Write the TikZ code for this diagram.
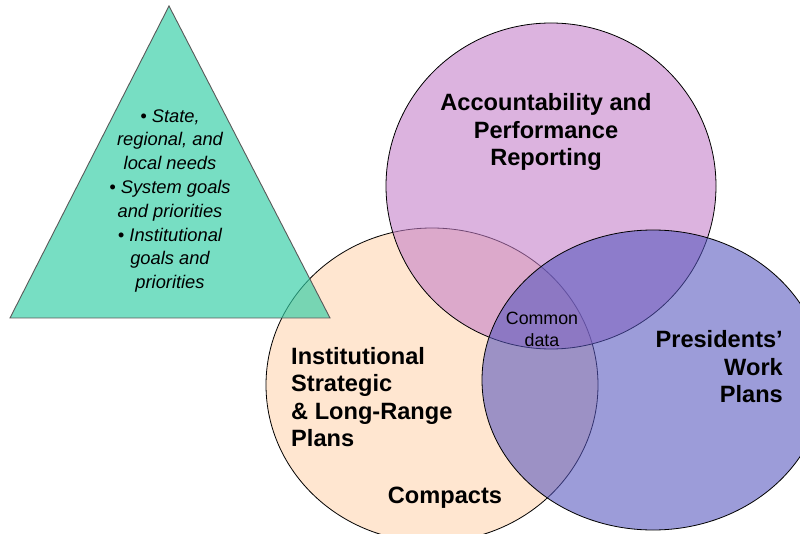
\documentclass[tikz,border=0pt]{standalone}
\usepackage{fontspec}
\setmainfont{Liberation Sans}
\usetikzlibrary{shapes.geometric}
\definecolor{tealc}{RGB}{50,205,165}
\definecolor{purpc}{RGB}{195,125,200}
\definecolor{orangec}{RGB}{255,212,175}
\definecolor{bluec}{RGB}{85,85,190}
\tikzset{
  shapeline/.style={draw=black, line width=0.8pt, fill opacity=0.58},
  boldlbl/.style={font=\fontsize{23.6}{27.5}\selectfont\bfseries, inner sep=0pt},
  triLbl/.style={font=\fontsize{18.3}{23.8}\selectfont\itshape, align=center, inner sep=0pt},
  smallLbl/.style={font=\fontsize{17.8}{22}\selectfont, align=center, inner sep=0pt}
}
\begin{document}
\begin{tikzpicture}[x=1pt,y=-1pt]
\useasboundingbox (0,0) rectangle (800,534);
\clip (0,0) rectangle (800,534);
\fill[white] (0,0) rectangle (800,534);
% orange
\draw[shapeline, fill=orangec] (432,385) ellipse [x radius=166, y radius=157];
% triangle
\draw[draw=black!65, line width=0.9pt, fill=tealc, fill opacity=0.66] (169,6) -- (330,318) -- (10,318) -- cycle;
% purple
\draw[shapeline, fill=purpc] (551,186) ellipse [x radius=165, y radius=163];
% blue
\draw[shapeline, fill=bluec] (653,380) ellipse [x radius=171, y radius=150];
% texts
\node[triLbl] (tri) at (170,201) {• State,\\regional, and\\local needs\\• System goals\\and priorities\\• Institutional\\goals and\\priorities};
\node[boldlbl, align=center] (acc) at (546,132) {Accountability and\\Performance\\Reporting};
\node[boldlbl, align=left, anchor=west] (inst) at (291,397) {Institutional\\Strategic\\\& Long-Range\\Plans};
\node[boldlbl] (comp) at (445,498) {Compacts};
\node[boldlbl, align=right, anchor=east] (pres) at (783,367) {Presidents’\\Work\\Plans};
\node[smallLbl] (common) at (542,329) {Common\\data};
\end{tikzpicture}
\end{document}
